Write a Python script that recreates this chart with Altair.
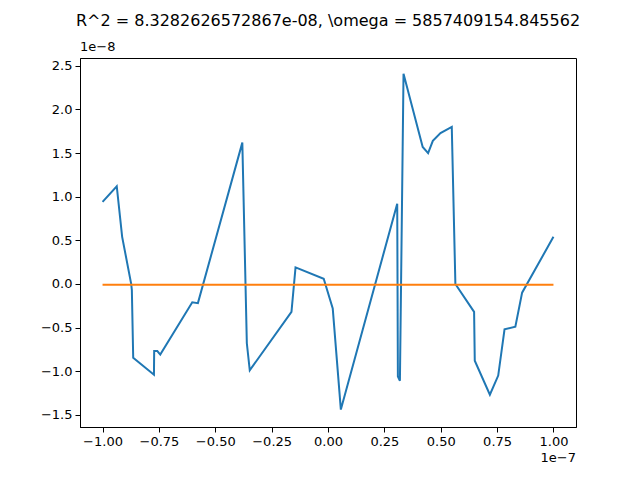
import altair as alt
import pandas as pd

# x in units of 1e-7, y in units of 1e-8
xs = [-1.0, -0.937, -0.913, -0.873, -0.870, -0.864, -0.772, -0.771, -0.757, -0.744,
      -0.602, -0.577, -0.380, -0.360, -0.347, -0.162, -0.144, -0.019, 0.021, 0.057,
      0.307, 0.310, 0.319, 0.335, 0.420, 0.444, 0.465, 0.499, 0.549, 0.565,
      0.648, 0.651, 0.718, 0.755, 0.783, 0.831, 0.861, 1.0]
ys = [0.94, 1.12, 0.54, 0.0, -0.07, -0.845, -1.04, -0.77, -0.77, -0.81,
      -0.21, -0.22, 1.62, -0.68, -0.99, -0.32, 0.19, 0.06, -0.28, -1.44,
      0.92, -1.06, -1.11, 2.41, 1.57, 1.50, 1.64, 1.73, 1.80, 0.0,
      -0.32, -0.88, -1.27, -1.05, -0.52, -0.49, -0.10, 0.54]
fit_x = [-1.0, 1.0]
fit_y = [-0.01, -0.01]

title = "R^2 = 8.3282626572867e-08, \\omega = 5857409154.845562"

data = pd.DataFrame({"x": xs, "y": ys, "order": range(len(xs))})
fit = pd.DataFrame({"x": fit_x, "y": fit_y})

xsc = alt.Scale(domain=[-1.1, 1.1], nice=False, zero=False)
ysc = alt.Scale(domain=[-1.64, 2.59], nice=False, zero=False)
xax = alt.Axis(title=None, values=[-1.0, -0.75, -0.5, -0.25, 0.0, 0.25, 0.5, 0.75, 1.0],
               format=".2f", grid=False, tickSize=5, labelFontSize=13, labelColor="black",
               tickColor="black", domainColor="black", labelPadding=3)
yax = alt.Axis(title=None, values=[-1.5, -1.0, -0.5, 0.0, 0.5, 1.0, 1.5, 2.0, 2.5],
               format=".1f", grid=False, tickSize=5, labelFontSize=13, labelColor="black",
               tickColor="black", domainColor="black", labelPadding=3)

line = alt.Chart(data).mark_line(color="#1f77b4", strokeWidth=2).encode(
    x=alt.X("x:Q", scale=xsc, axis=xax),
    y=alt.Y("y:Q", scale=ysc, axis=yax),
    order="order:Q",
)
fitline = alt.Chart(fit).mark_line(color="#ff7f0e", strokeWidth=2).encode(
    x=alt.X("x:Q", scale=xsc), y=alt.Y("y:Q", scale=ysc)
)
off_y = alt.Chart(pd.DataFrame({"t": ["1e\u22128"]})).mark_text(
    align="left", baseline="bottom", fontSize=13, font="DejaVu Sans"
).encode(text="t:N", x=alt.value(0), y=alt.value(-4))
off_x = alt.Chart(pd.DataFrame({"t": ["1e\u22127"]})).mark_text(
    align="right", baseline="top", fontSize=13, font="DejaVu Sans"
).encode(text="t:N", x=alt.value(496), y=alt.value(29))

off_x = off_x.encode(y=alt.value(394))

chart = alt.layer(line, fitline, off_y, off_x).properties(
    width=496, height=369,
    title=alt.TitleParams(title, fontSize=16, fontWeight="normal", font="DejaVu Sans",
                          anchor="middle", offset=12),
    autosize=alt.AutoSizeParams(type="none"),
    padding={"left": 72, "top": 50, "right": 56, "bottom": 45},
).configure_view(stroke="black", strokeWidth=1).configure_axis(
    labelFont="DejaVu Sans"
)

chart.save("out.html", embed_options={"renderer": "svg", "actions": False})
